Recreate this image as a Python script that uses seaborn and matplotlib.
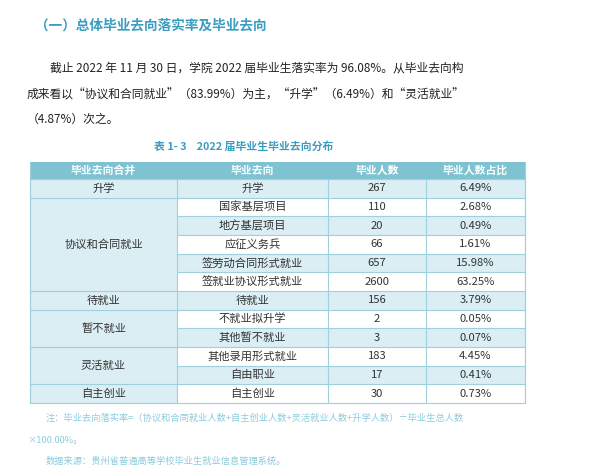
import numpy as np
import matplotlib
matplotlib.use("Agg")
import matplotlib.pyplot as plt
import seaborn as sns
from matplotlib.patches import Rectangle

sns.set_theme(style="white", font="Noto Sans CJK SC")

# table data
groups = ["升学", "协议和合同就业", "待就业", "暂不就业", "灵活就业", "自主创业"]
group_sizes = [1, 5, 1, 2, 2, 1]
directions = ["升学", "国家基层项目", "地方基层项目", "应征义务兵", "签劳动合同形式就业",
              "签就业协议形式就业", "待就业", "不就业拟升学", "其他暂不就业",
              "其他录用形式就业", "自由职业", "自主创业"]
counts = [267, 110, 20, 66, 657, 2600, 156, 2, 3, 183, 17, 30]
shares = ["6.49%", "2.68%", "0.49%", "1.61%", "15.98%", "63.25%", "3.79%",
          "0.05%", "0.07%", "4.45%", "0.41%", "0.73%"]
headers = ["毕业去向合并", "毕业去向", "毕业人数", "毕业人数占比"]

teal = "#3a9cc0"
head_bg = "#7fc3d3"
light = "#daeef4"
grid = "#9fd0dd"

fig = plt.figure(figsize=(6, 4.74), dpi=100)
ax = fig.add_axes([0, 0, 1, 1])
ax.set_xlim(0, 600)
ax.set_ylim(474, 0)
ax.axis("off")

# texts
ax.text(35, 26, "（一）总体毕业去向落实率及毕业去向", color=teal, fontsize=9.8,
        fontweight="bold", va="center")
ax.text(50, 68, "截止 2022 年 11 月 30 日，学院 2022 届毕业生落实率为 96.08%。从毕业去向构",
        fontsize=8.5, color="#222222", va="center")
ax.text(27, 95, "成来看以“协议和合同就业”（83.99%）为主，“升学”（6.49%）和“灵活就业”",
        fontsize=8.5, color="#222222", va="center")
ax.text(27, 119, "（4.87%）次之。", fontsize=8.5, color="#222222", va="center")
ax.text(244, 147, "表 1- 3    2022 届毕业生毕业去向分布", color=teal, fontsize=7.8,
        fontweight="bold", va="center", ha="center")

cols = [30, 177, 328, 426, 525]
top, hh = 162, 17
rh = (403 - 179) / len(directions)
y0 = top + hh

# header
ax.add_patch(Rectangle((cols[0], top), cols[-1] - cols[0], hh, color=head_bg, lw=0))
for i, h in enumerate(headers):
    ax.text((cols[i] + cols[i + 1]) / 2, top + hh / 2, h, color="white", fontsize=7.8,
            fontweight="bold", ha="center", va="center")

# rows
for r, (d, c, s) in enumerate(zip(directions, counts, shares)):
    y = y0 + r * rh
    if r % 2 == 0:
        ax.add_patch(Rectangle((cols[1], y), cols[-1] - cols[1], rh, color=light, lw=0))
    ax.plot([cols[1], cols[-1]], [y, y], color=grid, lw=0.8)
    for k, v in enumerate([d, str(c), s]):
        ax.text((cols[k + 1] + cols[k + 2]) / 2, y + rh / 2, v, fontsize=8.1,
                color="#333333", ha="center", va="center")

# group column
start = 0
for g, n in zip(groups, group_sizes):
    y = y0 + start * rh
    ax.add_patch(Rectangle((cols[0], y), cols[1] - cols[0], n * rh, color=light, lw=0))
    ax.plot([cols[0], cols[1]], [y, y], color=grid, lw=0.8)
    ax.text((cols[0] + cols[1]) / 2, y + n * rh / 2, g, fontsize=8.1, color="#333333",
            ha="center", va="center")
    start += n

bottom = y0 + len(directions) * rh
ax.plot([cols[0], cols[-1]], [bottom, bottom], color=grid, lw=0.8)
for x in cols:
    ax.plot([x, x], [y0, bottom], color=grid, lw=0.8)
ax.plot([cols[0], cols[0]], [top, bottom], color=grid, lw=0.8)
ax.plot([cols[-1], cols[-1]], [top, bottom], color=grid, lw=0.8)

note = "#8ccbdc"
ax.text(46, 418, "注：毕业去向落实率=（协议和合同就业人数+自主创业人数+灵活就业人数+升学人数）÷毕业生总人数",
        fontsize=6.65, color=note, va="center")
ax.text(27, 440, "×100.00%。", fontsize=6.65, color=note, va="center")
ax.text(46, 461, "数据来源：贵州省普通高等学校毕业生就业信息管理系统。", fontsize=6.65,
        color=note, va="center")

fig.savefig("out.png", dpi=100)
